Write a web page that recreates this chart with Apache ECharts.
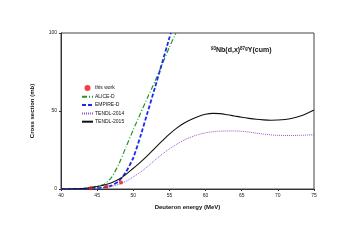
<!DOCTYPE html>
<html><head><meta charset="utf-8">
<script src="https://cdn.jsdelivr.net/npm/echarts@6/dist/echarts.min.js"></script>
<style>html,body{margin:0;padding:0;background:#fff}#c{width:351px;height:248px}</style>
</head><body><div id="c"></div>
<script>
// Experimental data (this work)
const expE = [44.1, 46.3, 48.3];
const expY = [0.5, 1.5, 4.2];

// ALICE-D
const aliceE = [40, 42, 43, 44, 45, 46, 47, 48, 49, 50, 51, 52, 53, 54, 55, 55.9];
const aliceY = [0, 0.1, 0.3, 1.0, 1.8, 3.0, 7.5, 16, 27, 38, 48.5, 59, 69, 80, 91, 100];

// EMPIRE-D
const empireE = [40, 42, 43, 44, 45, 46, 47, 48, 49, 50, 51, 52, 53, 54, 55, 55.2];
const empireY = [0, 0, 0.1, 0.3, 0.6, 1.0, 2.2, 5, 11, 20, 34, 49.5, 65, 81, 97, 100];

// TENDL-2014
const t14E = [40,41,42,43,44,45,46,47,48,49,50,51,52,53,54,55,56,57,58,59,60,61,62,63,64,65,66,67,68,69,70,71,72,73,74,75];
const t14Y = [0,0,0,0.1,0.3,0.6,1.0,1.7,3,5,7.8,10.8,14.5,18.5,22.3,25.7,28.7,31.3,33.3,34.9,36,36.7,37.1,37.2,37.2,37,36.5,35.8,35.2,34.7,34.4,34.3,34.3,34.4,34.6,34.8];

// TENDL-2015
const t15E = [40,41,42,43,44,45,46,47,48,49,50,51,52,53,54,55,56,57,58,59,60,61,62,63,64,65,66,67,68,69,70,71,72,73,74,75];
const t15Y = [0,0,0.1,0.3,0.8,1.6,2.6,4.0,6.2,9.4,13.3,17.2,21.5,26.2,30.8,35.2,39,42.1,44.6,46.5,47.9,48.5,48.3,47.6,46.8,46,45.3,44.7,44.3,44.1,44.2,44.6,45.4,46.6,48.4,50.6];

const xTicks = [40, 45, 50, 55, 60, 65, 70, 75];
const yTicks = [0, 50, 100];

const zip = (a, b) => a.map((v, i) => [v, b[i]]);
const F = 'Liberation Sans, Arial, sans-serif';
const hide = {opacity: 0};

const chart = echarts.init(document.getElementById('c'), null, {renderer: 'canvas'});
chart.setOption({
  animation: false,
  backgroundColor: '#fff',
  textStyle: {fontFamily: F},
  title: {
    text: '{s|93}{n|Nb(d,x)}{s|87g}{n|Y(cum)}',
    left: 206, top: 41,
    textStyle: {
      rich: {
        n: {fontSize: 7, fontWeight: 'bold', color: '#111', fontFamily: F, verticalAlign: 'bottom'},
        s: {fontSize: 4.5, fontWeight: 'bold', color: '#111', fontFamily: F, verticalAlign: 'top', padding: [0, 0, 3, 0]}
      }
    }
  },
  legend: {
    orient: 'vertical', left: 76, top: 80,
    itemWidth: 11, itemHeight: 6, itemGap: 3.3,
    textStyle: {fontSize: 5, color: '#111', fontFamily: F, padding: [0, 0, 0, -3]},
    data: [
      {name: 'this work', icon: 'circle'},
      {name: 'ALICE-D', itemStyle: hide},
      {name: 'EMPIRE-D', itemStyle: hide},
      {name: 'TENDL-2014', itemStyle: hide},
      {name: 'TENDL-2015', itemStyle: hide}
    ]
  },
  grid: {left: 61, right: 37, top: 33, bottom: 59, show: true, borderColor: '#444', borderWidth: 1},
  xAxis: {
    type: 'value', min: 40, max: 75, interval: 5,
    name: 'Deuteron energy (MeV)', nameLocation: 'middle', nameGap: 15,
    nameTextStyle: {fontSize: 6, fontWeight: 'bold', color: '#111', fontFamily: F},
    axisLine: {lineStyle: {color: '#333', width: 1}},
    axisTick: {show: true, length: 2, lineStyle: {color: '#333'}},
    axisLabel: {fontSize: 5, color: '#222', margin: 4, fontFamily: F, customValues: xTicks},
    splitLine: {show: false}
  },
  yAxis: {
    type: 'value', min: 0, max: 100, interval: 50,
    name: 'Cross section (mb)', nameLocation: 'middle', nameGap: 26,
    nameTextStyle: {fontSize: 6, fontWeight: 'bold', color: '#111', fontFamily: F},
    axisLine: {show: true, lineStyle: {color: '#333', width: 1}},
    axisTick: {show: true, length: 2, lineStyle: {color: '#333'}},
    axisLabel: {fontSize: 5, color: '#222', margin: 4, fontFamily: F, customValues: yTicks},
    splitLine: {show: false}
  },
  series: [
    {name: 'this work', type: 'scatter', data: zip(expE, expY), symbol: 'circle', symbolSize: 4,
      itemStyle: {color: '#ee1111'}, z: 10},
    {name: 'ALICE-D', type: 'line', data: zip(aliceE, aliceY), showSymbol: false, symbol: 'none', smooth: 0.2,
      lineStyle: {color: '#229922', width: 1.2, type: [5, 2, 1, 2]}, itemStyle: {color: '#229922'}},
    {name: 'EMPIRE-D', type: 'line', data: zip(empireE, empireY), showSymbol: false, symbol: 'none', smooth: 0.2,
      lineStyle: {color: '#1a2aee', width: 1.8, type: [4, 2]}, itemStyle: {color: '#1a2aee'}},
    {name: 'TENDL-2014', type: 'line', data: zip(t14E, t14Y), showSymbol: false, symbol: 'none', smooth: 0.3,
      lineStyle: {color: '#9955cc', width: 1, type: [1, 1]}, itemStyle: {color: '#9955cc'}},
    {name: 'TENDL-2015', type: 'line', data: zip(t15E, t15Y), showSymbol: false, symbol: 'none', smooth: 0.3,
      lineStyle: {color: '#111', width: 1.1}, itemStyle: {color: '#111'}}
  ]
});
</script>
</body></html>
